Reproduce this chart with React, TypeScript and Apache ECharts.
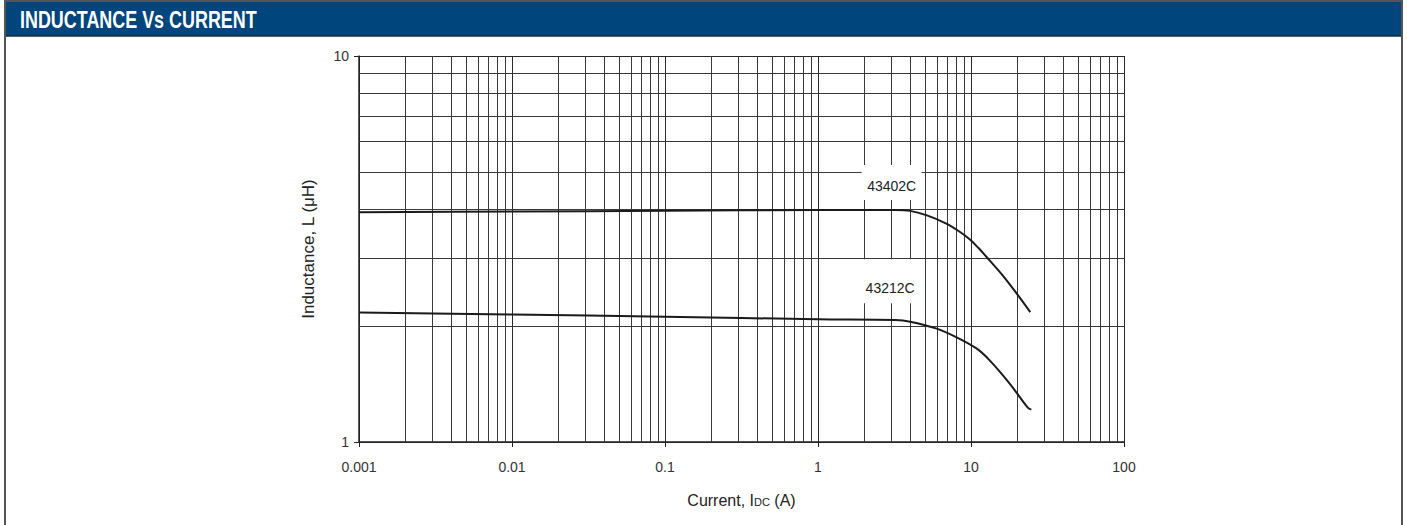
import React, { useEffect, useRef } from "react";
import * as echarts from "echarts";

const title = "INDUCTANCE Vs CURRENT";
const xTickLabels = ["0.001", "0.01", "0.1", "1", "10", "100"];
const yTickLabels = ["1", "10"];
const xMinorGrid = [
  0.002, 0.003, 0.004, 0.005, 0.006, 0.007, 0.008, 0.009,
  0.02, 0.03, 0.04, 0.05, 0.06, 0.07, 0.08, 0.09,
  0.2, 0.3, 0.4, 0.5, 0.6, 0.7, 0.8, 0.9,
  2, 3, 4, 5, 6, 7, 8, 9,
  20, 30, 40, 50, 60, 70, 80, 90,
];
const yMinorGrid = [2, 3, 4, 5, 6, 7, 8, 9];
const xRange = [0.001, 100];
const yRange = [1, 10];

const seriesNames = ["43402C", "43212C"];
const curve43402C: [number, number][] = [
  [0.001, 3.94], [0.01, 3.955], [0.1, 3.97], [1, 3.99], [3.2, 3.99],
  [4, 3.97], [5.1, 3.87], [6.9, 3.68], [8.3, 3.52], [9.8, 3.35],
  [11.2, 3.18], [12.6, 3.02], [16, 2.71], [19.8, 2.43], [24.4, 2.17],
];
const curve43212C: [number, number][] = [
  [0.001, 2.165], [0.01, 2.14], [0.1, 2.11], [1, 2.08], [3.2, 2.07],
  [4, 2.05], [5.9, 1.97], [8, 1.87], [10.8, 1.75], [13.2, 1.63],
  [17.9, 1.417], [23.6, 1.225], [24.8, 1.213],
];
// label box centres (data coordinates)
const labelCoords: [number, number][] = [
  [3.03, 4.7],
  [2.96, 2.61],
];

function fmt(v: number) {
  return String(parseFloat(Number(v).toPrecision(6)));
}

export default function App() {
  const ref = useRef<HTMLDivElement>(null);
  useEffect(() => {
    document.body.style.margin = "0";
    const chart = echarts.init(ref.current!, null, { renderer: "svg" });
    const font = "'Liberation Sans', Arial, sans-serif";
    const curveLine = { color: "#1a1a1a", width: 2 };
    const gridColor = "#3a3a3a";
    chart.setOption({
      animation: false,
      backgroundColor: "#fff",
      textStyle: { fontFamily: font },
      grid: { left: 359, top: 56, right: 283, bottom: 83 },
      xAxis: {
        type: "log",
        logBase: 10,
        min: xRange[0],
        max: xRange[1],
        name: "Current, I{s|DC} (A)",
        nameLocation: "middle",
        nameGap: 50,
        nameTextStyle: {
          fontSize: 16,
          color: "#222",
          fontFamily: font,
          rich: { s: { fontSize: 11, color: "#222", fontFamily: font, padding: [4, 0, 0, 0] } },
        },
        axisLine: { show: true, lineStyle: { color: "#222", width: 1.5 } },
        axisTick: { show: true, length: 5, lineStyle: { color: "#222" } },
        axisLabel: {
          fontSize: 14,
          color: "#333",
          margin: 18,
          formatter: (v: number) => {
            const s = fmt(v);
            return xTickLabels.includes(s) ? s : "";
          },
        },
        splitLine: { show: true, lineStyle: { color: "#2a2a2a", width: 1 } },
      },
      yAxis: {
        type: "log",
        logBase: 10,
        min: yRange[0],
        max: yRange[1],
        name: "Inductance, L (\u03bcH)",
        nameLocation: "middle",
        nameGap: 42,
        nameTextStyle: { fontSize: 17, color: "#222", fontFamily: font },
        axisLine: { show: true, lineStyle: { color: "#222", width: 1.5 } },
        axisTick: { show: true, length: 5, lineStyle: { color: "#222" } },
        axisLabel: {
          fontSize: 14,
          color: "#333",
          margin: 10,
          formatter: (v: number) => {
            const s = fmt(v);
            return yTickLabels.includes(s) ? s : "";
          },
        },
        splitLine: { show: true, lineStyle: { color: "#2a2a2a", width: 1 } },
      },
      series: [
        {
          type: "line",
          data: [],
          z: 1,
          silent: true,
          markLine: {
            silent: true,
            symbol: ["none", "none"],
            label: { show: false },
            lineStyle: { color: gridColor, width: 1, type: "solid" },
            data: [
              ...xMinorGrid.map((v) => [{ coord: [v, yRange[0]] }, { coord: [v, yRange[1]] }]),
              ...yMinorGrid.map((v) => [{ coord: [xRange[0], v] }, { coord: [xRange[1], v] }]),
            ],
          },
        },
        {
          name: seriesNames[0],
          type: "line",
          data: curve43402C,
          smooth: 0.35,
          showSymbol: false,
          z: 5,
          lineStyle: curveLine,
          markPoint: {
            silent: true,
            symbol: "rect",
            symbolSize: [60, 35],
            itemStyle: { color: "#fff" },
            label: {
              show: true,
              formatter: seriesNames[0],
              color: "#222",
              fontSize: 14,
              fontFamily: font,
              offset: [0, 3],
            },
            data: [{ coord: labelCoords[0] }],
          },
        },
        {
          name: seriesNames[1],
          type: "line",
          data: curve43212C,
          smooth: 0.35,
          showSymbol: false,
          z: 5,
          lineStyle: curveLine,
          markPoint: {
            silent: true,
            symbol: "rect",
            symbolSize: [61, 44],
            itemStyle: { color: "#fff" },
            label: {
              show: true,
              formatter: seriesNames[1],
              color: "#222",
              fontSize: 14,
              fontFamily: font,
              offset: [0, 7],
            },
            data: [{ coord: labelCoords[1] }],
          },
        },
      ],
      graphic: [
        {
          type: "rect",
          shape: { x: 5, y: 2, width: 1397, height: 34 },
          style: { fill: "#00457c" },
          z: 10,
        },
        {
          type: "line",
          shape: { x1: 5, y1: 36, x2: 1402, y2: 36 },
          style: { stroke: "#1b2a3a", lineWidth: 1.5 },
          z: 11,
        },
        {
          type: "text",
          x: 20,
          y: 20,
          scaleX: 0.78,
          z: 12,
          style: {
            text: title,
            fill: "#fff",
            font: "bold 23px 'Liberation Sans', Arial, sans-serif",
            verticalAlign: "middle",
          },
        },
        {
          type: "rect",
          shape: { x: 5, y: 1, width: 1397, height: 530 },
          style: { fill: "none", stroke: "#555", lineWidth: 2 },
          z: 12,
        },
      ],
    });
    return () => chart.dispose();
  }, []);
  return <div ref={ref} style={{ width: 1407, height: 525 }} />;
}
